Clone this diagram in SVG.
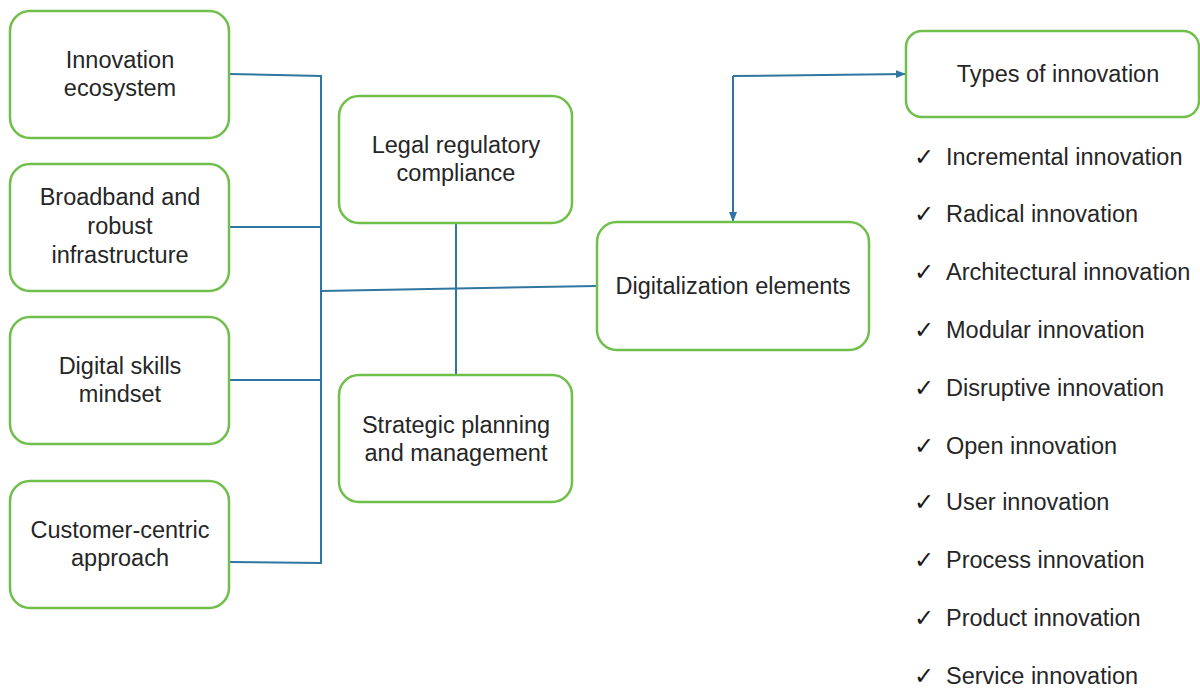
<svg xmlns="http://www.w3.org/2000/svg" width="1200" height="688" viewBox="0 0 1200 688">
<defs>
<style>
.box{fill:#fff;stroke:#70BF4B;stroke-width:2.5}
.t{font-family:"Liberation Sans",Arial,sans-serif;font-size:23.5px;fill:#262626;text-anchor:middle}
.l{font-family:"Liberation Sans",Arial,sans-serif;font-size:23.5px;fill:#262626}
.ck{font-family:"DejaVu Sans",sans-serif;font-size:24px;fill:#1a1a1a}
.c{fill:none;stroke:#2F76A0;stroke-width:2}
</style>
<marker id="ah2" viewBox="0 0 10 10" refX="10" refY="5" markerWidth="10" markerHeight="10" orient="auto" markerUnits="userSpaceOnUse">
<path d="M0,1 L10,5 L0,9 z" fill="#2F76A0"/>
</marker>
</defs>
<rect width="1200" height="688" fill="#fff"/>
<g id="connectors">
<path class="c" d="M229,74 L321,76 L321,563 L229,562"/>
<path class="c" d="M229,227 L321,227"/>
<path class="c" d="M229,380 L321,380"/>
<path class="c" d="M321,291 L597,286"/>
<path class="c" d="M456,223 L456,375"/>
<path class="c" d="M733,76 L733,222" marker-end="url(#ah2)"/>
<path class="c" d="M733,76 L906,74" marker-end="url(#ah2)"/>
</g>
<g id="innovation-ecosystem">
<rect class="box" x="10" y="11" width="219" height="127" rx="20"/>
<text class="t" x="120" y="68">Innovation</text>
<text class="t" x="120" y="96">ecosystem</text>
</g>
<g id="broadband">
<rect class="box" x="10" y="164" width="219" height="127" rx="20"/>
<text class="t" x="120" y="205">Broadband and</text>
<text class="t" x="120" y="234">robust</text>
<text class="t" x="120" y="263">infrastructure</text>
</g>
<g id="digital-skills">
<rect class="box" x="10" y="317" width="219" height="127" rx="20"/>
<text class="t" x="120" y="374">Digital skills</text>
<text class="t" x="120" y="402">mindset</text>
</g>
<g id="customer-centric">
<rect class="box" x="10" y="481" width="219" height="127" rx="20"/>
<text class="t" x="120" y="538">Customer-centric</text>
<text class="t" x="120" y="566">approach</text>
</g>
<g id="legal">
<rect class="box" x="339" y="96" width="233" height="127" rx="20"/>
<text class="t" x="456" y="153">Legal regulatory</text>
<text class="t" x="456" y="181">compliance</text>
</g>
<g id="strategic">
<rect class="box" x="339" y="375" width="233" height="127" rx="20"/>
<text class="t" x="456" y="433">Strategic planning</text>
<text class="t" x="456" y="461">and management</text>
</g>
<g id="digitalization">
<rect class="box" x="597" y="222" width="272" height="128" rx="20"/>
<text class="t" x="733" y="294">Digitalization elements</text>
</g>
<g id="types">
<rect class="box" x="906" y="31" width="293" height="86" rx="16"/>
<text class="t" x="1058" y="82">Types of innovation</text>
</g>
<g id="types-list">
<text class="ck" x="914" y="165">✓</text><text class="l" x="946" y="165">Incremental innovation</text>
<text class="ck" x="914" y="222">✓</text><text class="l" x="946" y="222">Radical innovation</text>
<text class="ck" x="914" y="280">✓</text><text class="l" x="946" y="280">Architectural innovation</text>
<text class="ck" x="914" y="338">✓</text><text class="l" x="946" y="338">Modular innovation</text>
<text class="ck" x="914" y="396">✓</text><text class="l" x="946" y="396">Disruptive innovation</text>
<text class="ck" x="914" y="454">✓</text><text class="l" x="946" y="454">Open innovation</text>
<text class="ck" x="914" y="510">✓</text><text class="l" x="946" y="510">User innovation</text>
<text class="ck" x="914" y="568">✓</text><text class="l" x="946" y="568">Process innovation</text>
<text class="ck" x="914" y="626">✓</text><text class="l" x="946" y="626">Product innovation</text>
<text class="ck" x="914" y="684">✓</text><text class="l" x="946" y="684">Service innovation</text>
</g>
</svg>
